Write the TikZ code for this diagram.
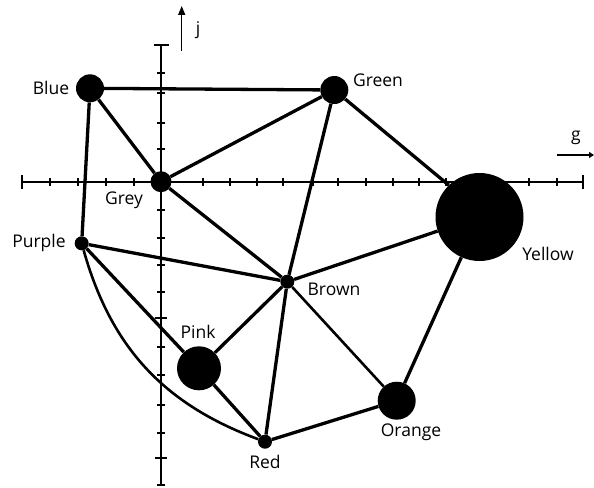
\documentclass[tikz,border=0pt]{standalone}
\usepackage{fontspec}
\setmainfont{Open Sans}
\usetikzlibrary{arrows.meta}
\begin{document}
\begin{tikzpicture}[x=1pt,y=-1pt,
  dot/.style={circle,fill=black,inner sep=0pt,minimum size=#1},
  edge/.style={line width=3.3pt},
  thinedge/.style={line width=2.6pt},
  axis/.style={line width=2pt},
  lbl/.style={font=\fontsize{17.5}{20}\selectfont,inner sep=0pt},
]
\useasboundingbox (0,0) rectangle (594,487);
% axes
\coordinate (xl) at (21.7,182);
\coordinate (xr) at (583.3,182);
\coordinate (yt) at (161,45);
\coordinate (yb) at (161,485);
\draw[axis] (xl) -- (xr);
\draw[axis] (yt) -- (yb);
\draw[axis] (21.7,175) -- (21.7,189);
\draw[axis] (583.3,175) -- (583.3,189);
\draw[axis] (153.5,45) -- (168.5,45);
\draw[axis] (157,485) -- (165,485);
\foreach \x in {50,78.3,105.7,134,203.3,230,256.7,283.3,313,338.3,365.7,392.7,419.3,446,529.3,556.7}
  \draw[axis] (\x,178) -- (\x,186);
\foreach \y in {72.7,93.3,122.7,149.3,210,238.3,265,291.7,346.7,375,405,433.3}
  \draw[axis] (157,\y) -- (165,\y);
\foreach \y in {317.7,458.3}
  \draw[axis] (155,\y) -- (167,\y);
% axis arrows
\coordinate (js) at (181.7,51);
\coordinate (je) at (181.7,6);
\draw[line width=1.5pt,-{Triangle[length=9pt,width=7pt]}] (js) -- (je);
\coordinate (gs) at (556.7,155);
\coordinate (ge) at (594,155);
\draw[line width=1.3pt,-{Triangle[length=5pt,width=6pt]}] (gs) -- (ge);
\node[lbl] (jl) at (198,30) {j};
\node[lbl] (gl) at (576,138) {g};
% nodes
\node[dot=28pt] (Blue) at (90,88.3) {};
\node[dot=21pt] (Grey) at (161,181.7) {};
\node[dot=14pt] (Purple) at (81.7,243.3) {};
\node[dot=28pt] (Green) at (334.3,90) {};
\node[dot=88pt] (Yellow) at (479.5,217) {};
\node[dot=14pt] (Brown) at (287.3,281.7) {};
\node[dot=44pt] (Pink) at (199,368.3) {};
\node[dot=14pt] (Red) at (265,441.7) {};
\node[dot=38pt] (Orange) at (396.7,400.7) {};
% edges
\draw[edge] (Blue) -- (Green);
\draw[edge] (Blue) -- (Grey);
\draw[edge] (Blue) -- (Purple);
\draw[edge] (Grey) -- (Green);
\draw[edge] (Grey) -- (Brown);
\draw[edge] (Green) -- (Brown);
\draw[edge] (Green) -- (Yellow.134);
\draw[edge] (Purple) -- (Brown);
\draw[edge] (Purple) -- (Pink);
\draw[thinedge] (Purple) to[bend right=27] (Red);
\draw[edge] (Pink) -- (Red);
\draw[edge] (Pink) -- (Brown);
\draw[edge] (Brown) -- (Red);
\draw[edge] (Brown) -- (Yellow);
\draw[thinedge] (Brown) -- (Orange);
\draw[edge] (Red) -- (Orange);
\draw[edge] (Yellow) -- (Orange);
% labels
\node[lbl] (lBlue) at (51,88) {Blue};
\node[lbl] (lGrey) at (124,200) {Grey};
\node[lbl] (lPurple) at (39,243) {Purple};
\node[lbl] (lGreen) at (378,80) {Green};
\node[lbl] (lYellow) at (548,254) {Yellow};
\node[lbl] (lBrown) at (334,289) {Brown};
\node[lbl] (lPink) at (198,332) {Pink};
\node[lbl] (lRed) at (265,462) {Red};
\node[lbl] (lOrange) at (411,432) {Orange};
\end{tikzpicture}
\end{document}
